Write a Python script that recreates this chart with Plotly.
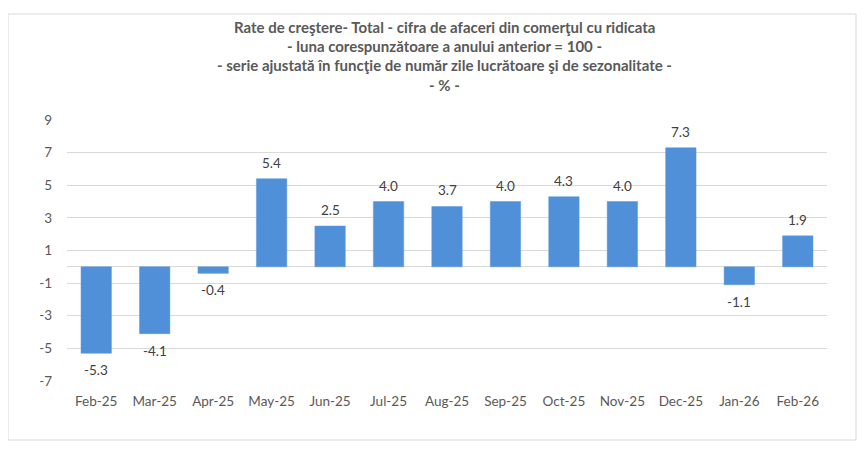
import plotly.graph_objects as go

months = ["Feb-25", "Mar-25", "Apr-25", "May-25", "Jun-25", "Jul-25", "Aug-25",
          "Sep-25", "Oct-25", "Nov-25", "Dec-25", "Jan-26", "Feb-26"]
growth = [-5.3, -4.1, -0.4, 5.4, 2.5, 4.0, 3.7, 4.0, 4.3, 4.0, 7.3, -1.1, 1.9]
y_ticks = [-7, -5, -3, -1, 1, 3, 5, 7, 9]
title_lines = [
    "Rate de creştere- Total - cifra de afaceri din comerţul cu ridicata",
    "- luna corespunzătoare a anului anterior = 100 -",
    "- serie ajustată în funcţie de număr zile lucrătoare şi de sezonalitate -",
    "- % -",
]

W, H = 867, 455
FONT = "Lato"
# plot area in page pixels (page body adds an 8px offset)
PL, PR, PT, PB = 67, 827, 120, 381


def px_x(x):
    return (x - PL) / (PR - PL)


def px_y(y):
    return (PB - y) / (PB - PT)


fig = go.Figure()

fig.add_trace(go.Bar(
    x=months,
    y=growth,
    width=0.52,
    marker=dict(color="#5090d8", line=dict(color="#5a98da", width=0.5)),
    hoverinfo="x+y",
))

# value labels (plain hyphen like the original)
for m, v in zip(months, growth):
    fig.add_annotation(
        x=m, y=v, text=f"{v:.1f}",
        showarrow=False,
        yshift=16 if v >= 0 else -17,
        xanchor="center", yanchor="middle",
        font=dict(family=FONT, size=13.5, color="#404040"),
    )

# title, one annotation per line
title_y = [27, 46, 65, 85]
for line, py in zip(title_lines, title_y):
    fig.add_annotation(
        text=f"<b>{line}</b>",
        xref="paper", yref="paper",
        x=px_x(444), y=px_y(py),
        showarrow=False,
        font=dict(family=FONT, size=15, color="#595959"),
        xanchor="center", yanchor="middle",
    )

# chart frame
fig.add_shape(
    type="rect", xref="paper", yref="paper",
    x0=px_x(8), x1=px_x(856),
    y0=px_y(440), y1=px_y(14),
    line=dict(color="#d9d9d9", width=1),
    fillcolor="rgba(0,0,0,0)",
    layer="below",
)

fig.update_layout(
    width=W, height=H,
    margin=dict(l=PL - 8, r=W - PR + 8, t=PT - 8, b=H - PB + 8),
    paper_bgcolor="white",
    plot_bgcolor="white",
    showlegend=False,
    font=dict(family=FONT, color="#595959"),
)

fig.update_xaxes(
    showgrid=False,
    showline=False,
    ticks="",
    ticklabelstandoff=10,
    tickfont=dict(family=FONT, size=13.5, color="#595959"),
)
fig.update_yaxes(
    range=[-7, 9],
    tickvals=y_ticks,
    ticktext=[str(t) for t in y_ticks],
    showgrid=True,
    gridcolor="#d9d9d9",
    gridwidth=1,
    zeroline=True,
    zerolinecolor="#d9d9d9",
    zerolinewidth=1,
    showline=False,
    ticks="",
    ticklabelstandoff=14,
    tickfont=dict(family=FONT, size=13.5, color="#595959"),
)

fig.write_html("out.html")
